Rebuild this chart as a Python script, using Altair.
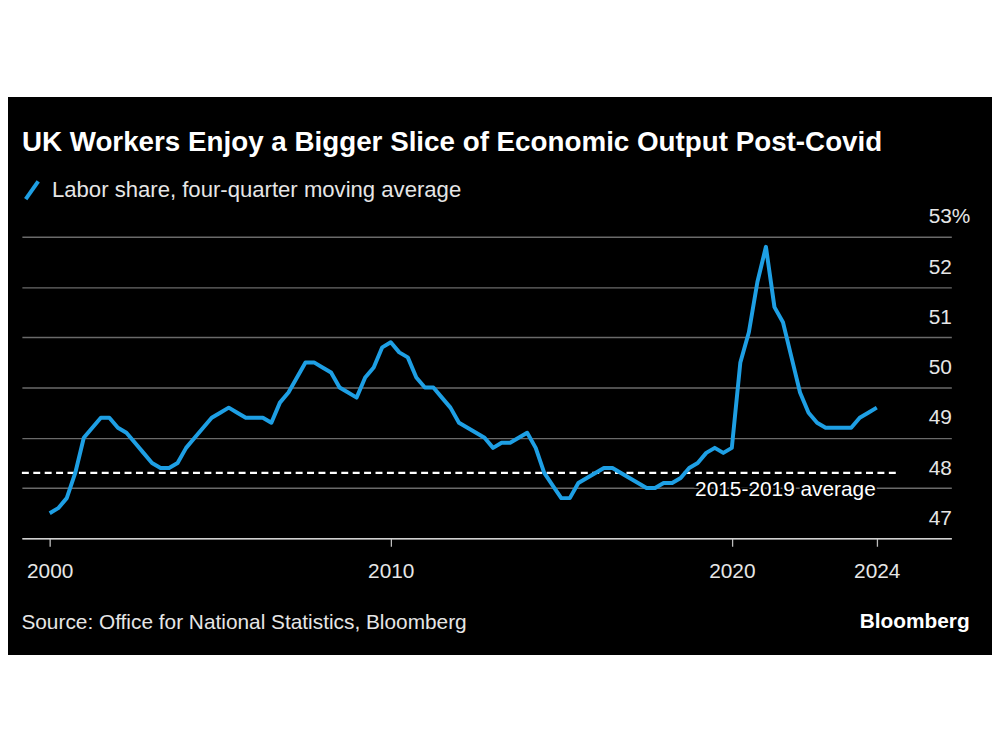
import altair as alt
import pandas as pd

# ---- data ----
labor_share = [
    47.5, 47.6, 47.8, 48.3, 49.0, 49.2, 49.4, 49.4, 49.2, 49.1,
    48.9, 48.7, 48.5, 48.4, 48.4, 48.5, 48.8, 49.0, 49.2, 49.4,
    49.5, 49.6, 49.5, 49.4, 49.4, 49.4, 49.3, 49.7, 49.9, 50.2,
    50.5, 50.5, 50.4, 50.3, 50.0, 49.9, 49.8, 50.2, 50.4, 50.8,
    50.9, 50.7, 50.6, 50.2, 50.0, 50.0, 49.8, 49.6, 49.3, 49.2,
    49.1, 49.0, 48.8, 48.9, 48.9, 49.0, 49.1, 48.8, 48.3, 48.05,
    47.8, 47.8, 48.1, 48.2, 48.3, 48.4, 48.4, 48.3, 48.2, 48.1,
    48.0, 48.0, 48.1, 48.1, 48.2, 48.4, 48.5, 48.7, 48.8, 48.7,
    48.8, 50.5, 51.1, 52.1, 52.8, 51.6, 51.3, 50.6, 49.9, 49.5,
    49.3, 49.2, 49.2, 49.2, 49.2, 49.4, 49.5, 49.6,
]
first_year = 2000
quarter_pos = [first_year + q / 4 for q in range(len(labor_share))]  # quarterly points
series_name = "Labor share, four-quarter moving average"

x_ticks = [2000, 2010, 2020, 2024.25]
y_ticks = [47, 48, 49, 50, 51, 52, 53]
x_domain = [1999.185, 2026.436]
y_domain = [47, 53]

avg_value = 48.3
avg_end = 2024.85
avg_label = "2015-2019 average"
avg_label_x = 2024.25

title_text = "UK Workers Enjoy a Bigger Slice of Economic Output Post-Covid"
source_text = "Source: Office for National Statistics, Bloomberg"
brand_text = "Bloomberg"

# ---- tables ----
df = pd.DataFrame({"t": quarter_pos, "share": labor_share, "series": series_name})
avg_df = pd.DataFrame({"x1": [x_domain[0]], "x2": [avg_end], "y": [avg_value]})
lab_df = pd.DataFrame({"x": [avg_label_x], "y": [avg_value], "label": [avg_label]})

FONT = "Liberation Sans"
LINE = "#1e9fe4"
TXT = "#e6e6e6"
W, H = 937, 304

xscale = alt.Scale(domain=x_domain, nice=False, zero=False)
yscale = alt.Scale(domain=y_domain, nice=False, zero=False)

x_axis = alt.Axis(
    values=x_ticks,
    labelExpr="'' + floor(datum.value)",
    grid=False, domain=True, domainColor="#d0d0d0", domainWidth=1.5,
    ticks=True, tickSize=8, tickColor="#bdbdbd", tickWidth=1.3,
    labelFont=FONT, labelFontSize=21, labelColor=TXT, labelPadding=14,
    labelFlush=False, labelOverlap=False,
    title=source_text, titleFont=FONT, titleFontSize=21, titleFontWeight="normal",
    titleColor=TXT, titleAlign="left", titleBaseline="alphabetic",
    titleX=-1, titleY=91, titleAnchor="start",
    zindex=1,
)
y_axis = alt.Axis(
    orient="right", values=y_ticks,
    labelExpr="datum.value == 53 ? '53%' : datum.label",
    grid=True, gridColor="#6a6a6a", gridWidth=1.4,
    domain=False, ticks=False, tickSize=0,
    labelFont=FONT, labelFontSize=21, labelColor=TXT,
    labelAlign="right", labelBaseline="alphabetic", labelOffset=-14,
    labelPadding={"condition": {"test": "datum.value == 53", "value": 18.7}, "value": 0},
    labelFlush=False, labelOverlap=False,
    title=brand_text, titleFont=FONT, titleFontSize=21, titleFontWeight="bold",
    titleColor="#ffffff", titleAngle=0, titleAlign="right", titleBaseline="alphabetic",
    titleX=18, titleY=394,
)

base = alt.Chart(df)

line = base.mark_line(strokeWidth=4, strokeJoin="round").encode(
    x=alt.X("t:Q", scale=xscale, axis=x_axis),
    y=alt.Y("share:Q", scale=yscale, axis=y_axis),
    color=alt.Color(
        "series:N",
        scale=alt.Scale(domain=[series_name], range=[LINE]),
        legend=alt.Legend(
            orient="none", legendX=-1, legendY=-58, title=None, padding=0,
            symbolType="M-0.7,1L0.7,-1", symbolSize=324, symbolStrokeWidth=4,
            symbolStrokeColor=LINE, symbolFillColor="transparent",
            labelFont=FONT, labelFontSize=22.3, labelColor=TXT, labelOffset=9,
            labelLimit=800,
        ),
    ),
)

avg_rule = alt.Chart(avg_df).mark_rule(
    color="#ffffff", strokeWidth=2.3, strokeDash=[7, 4.5]
).encode(
    x=alt.X("x1:Q", scale=xscale),
    x2="x2:Q",
    y=alt.Y("y:Q", scale=yscale),
)

halo = alt.Chart(lab_df).mark_text(
    align="right", baseline="alphabetic", dy=23, dx=-1,
    font=FONT, fontSize=21, color="#000000", stroke="#000000", strokeWidth=4,
).encode(x=alt.X("x:Q", scale=xscale), y=alt.Y("y:Q", scale=yscale), text="label:N")

label = alt.Chart(lab_df).mark_text(
    align="right", baseline="alphabetic", dy=23, dx=-1,
    font=FONT, fontSize=21, color="#ffffff",
).encode(x=alt.X("x:Q", scale=xscale), y=alt.Y("y:Q", scale=yscale), text="label:N")

# white page band above the black chart panel
top_band = alt.Chart(alt.Data(values=[{"band": 1}])).mark_rect(color="#ffffff").encode(
    x=alt.value(-30), x2=alt.value(1000), y=alt.value(-260), y2=alt.value(-141)
)

chart = alt.layer(top_band, avg_rule, line, halo, label).properties(
    width=W, height=H,
    title=alt.TitleParams(
        text=title_text, anchor="start", frame="group", orient="top",
        font=FONT, fontSize=28, fontWeight="bold", color="#ffffff",
        offset=0, baseline="alphabetic", dy=201.5,
    ),
    autosize=alt.AutoSizeParams(type="none"),
    padding={"left": 14, "top": 228, "right": 41, "bottom": 115},
    background="#000000",
).configure_view(stroke=None)

chart.save("out.html", embed_options={"renderer": "svg", "actions": False})
